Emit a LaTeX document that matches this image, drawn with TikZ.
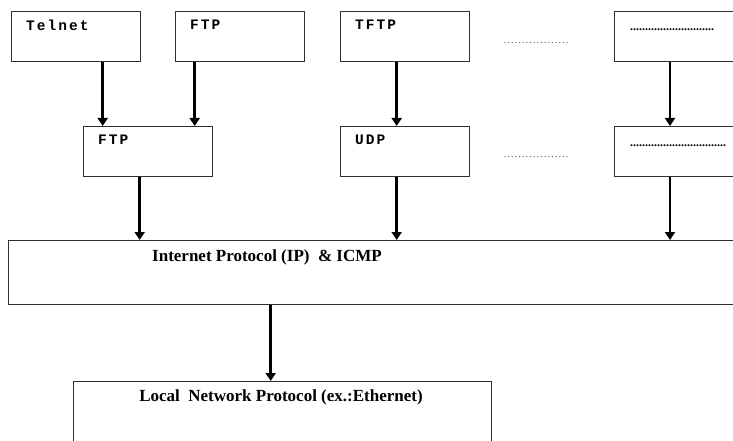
\documentclass[tikz,border=0pt]{standalone}
\usepackage{fontspec}
\setmainfont{Liberation Serif}
\newfontfamily\boxfont[LetterSpace=14]{Liberation Mono}
\usetikzlibrary{arrows.meta}
\definecolor{edge}{HTML}{303030}
\tikzset{
  box/.style={draw=edge, line width=1.4pt, fill=white, anchor=north west, inner sep=0pt},
  small/.style={box, minimum width=129pt, minimum height=50pt},
  lbl/.style={anchor=north west, inner sep=0pt, font=\boxfont\bfseries\fontsize{14.5}{14.5}\selectfont},
  big/.style={anchor=north, inner sep=0pt, font=\bfseries\fontsize{17}{17}\selectfont},
  dots/.style={anchor=west, inner sep=0pt, text=black!60, font=\fontsize{11}{11}\selectfont},
  bdots/.style={anchor=west, inner sep=0pt, font=\bfseries\fontsize{12}{12}\selectfont},
  arr/.style={line width=2.6pt, draw=black, -{Triangle[width=10pt,length=8pt]}}
}
\begin{document}
\begin{tikzpicture}[x=1pt,y=-1pt]
\useasboundingbox (0,0) rectangle (733,441);
\clip (0,0) rectangle (733,441);
% top row
\node[small] (telnet) at (11,11) {};
\node[small] (ftp1) at (175,11) {};
\node[small] (tftp) at (340,11) {};
\node[box, minimum width=150pt, minimum height=50pt] (r1) at (614,11) {};
\node[lbl] (telnetl) at (26,20) {Telnet};
\node[lbl] (ftp1l) at (190,20) {FTP};
\node[lbl] (tftpl) at (355,20) {TFTP};
\node[dots] (d1) at (503,43) {\ldots\ldots\ldots\ldots\ldots\ldots};
\node[bdots] (r1l) at (630,30) {............................};
% middle row
\node[small] (ftp2) at (83,126) {};
\node[small] (udp) at (340,126) {};
\node[box, minimum width=150pt, minimum height=50pt] (r2) at (614,126) {};
\node[lbl] (ftp2l) at (98,135) {FTP};
\node[lbl] (udpl) at (355,135) {UDP};
\node[dots] (d2) at (503,157) {\ldots\ldots\ldots\ldots\ldots\ldots};
\node[bdots] (r2l) at (630,146) {................................};
% IP and local
\node[box, minimum width=760pt, minimum height=64pt] (ip) at (8,240) {};
\node[big] (ipl) at (267,250) {Internet Protocol (IP)\ \ \& ICMP};
\node[box, minimum width=418pt, minimum height=90pt] (lan) at (73,381) {};
\node[big] (lanl) at (281,390) {Local\ \ Network Protocol (ex.:Ethernet)};
% arrows
\draw[arr] ([xshift=26.5pt]telnet.south) -- ([xshift=26.5pt]telnet.south |- ftp2.north);
\draw[arr] ([xshift=-45.5pt]ftp1.south) -- ([xshift=-45.5pt]ftp1.south |- ftp2.north);
\draw[arr] ([xshift=-8.5pt]tftp.south) -- ([xshift=-8.5pt]udp.north);
\draw[arr] (r1.south west) ++(56,0) coordinate (a4) -- (a4 |- r2.north);
\draw[arr] ([xshift=-8.5pt]ftp2.south) -- ([xshift=-8.5pt]ftp2.south |- ip.north);
\draw[arr] ([xshift=-8.5pt]udp.south) -- ([xshift=-8.5pt]udp.south |- ip.north);
\draw[arr] (r2.south west) ++(56,0) coordinate (a7) -- (a7 |- ip.north);
\draw[arr] (ip.south -| lan.north) ++(-12,0) coordinate (a8) -- (a8 |- lan.north);
\end{tikzpicture}
\end{document}
